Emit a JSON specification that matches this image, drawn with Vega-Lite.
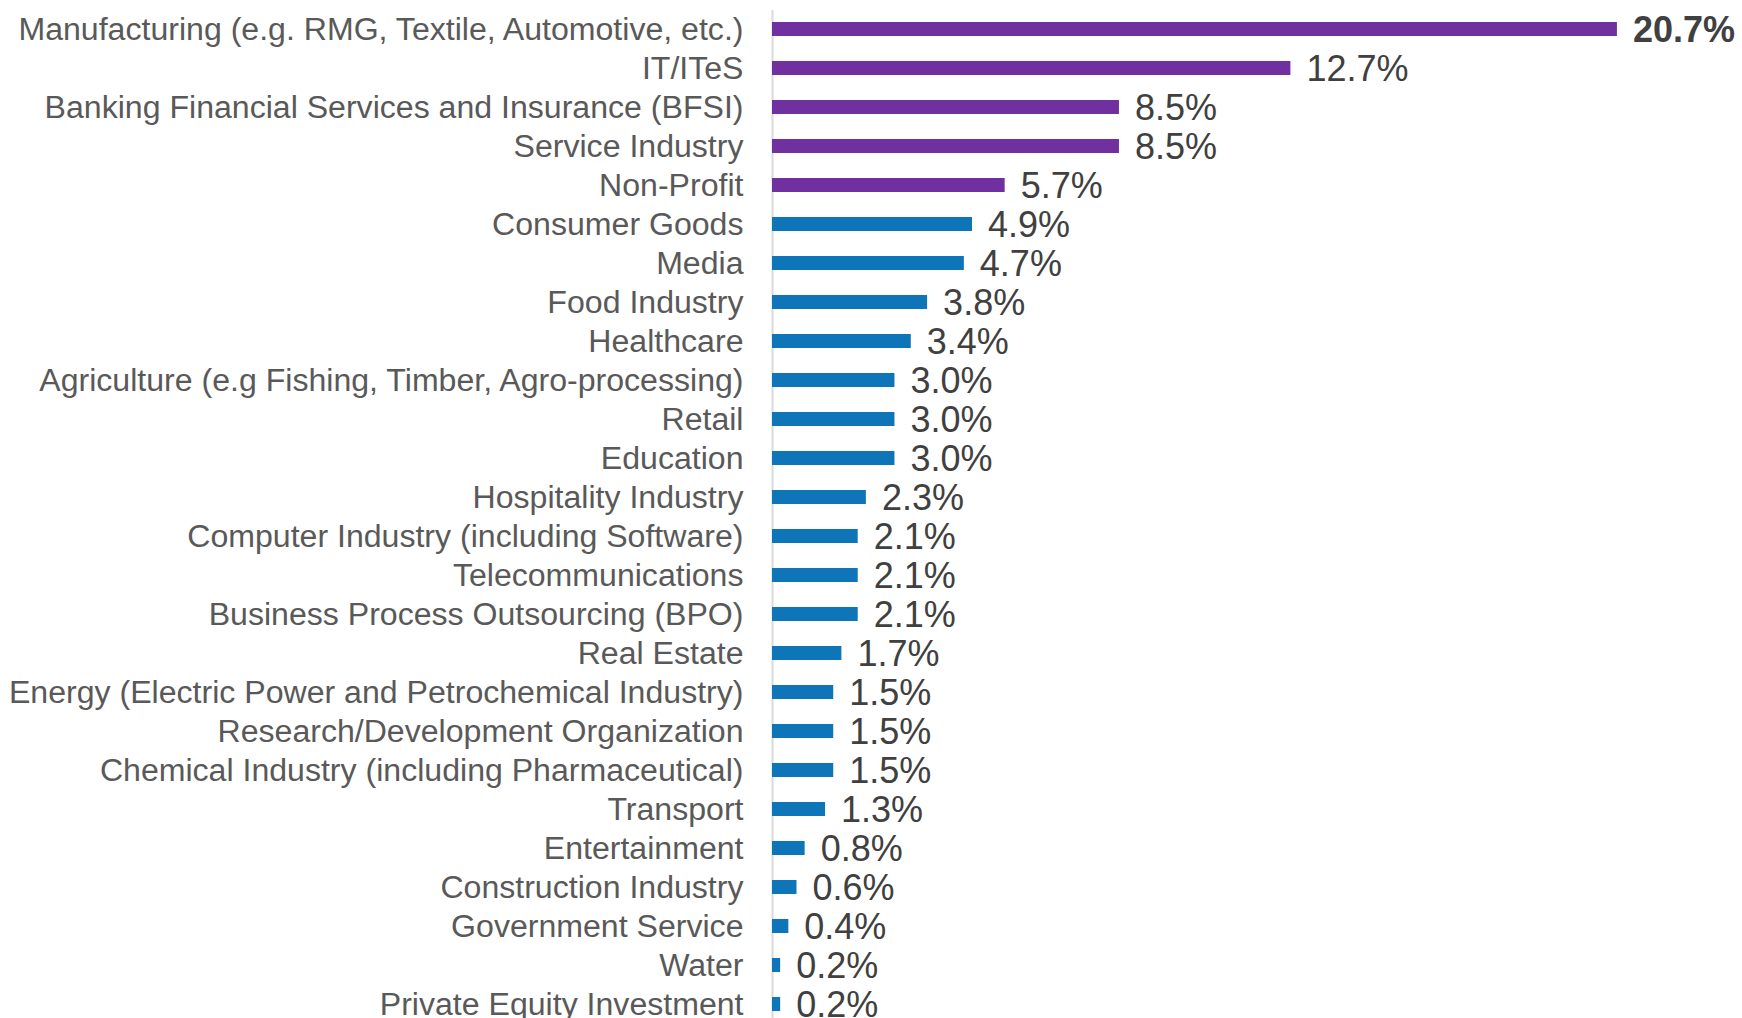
{
  "$schema": "https://vega.github.io/schema/vega-lite/v6.json",
  "autosize": "none",
  "padding": {"left": 772, "top": 9.5, "right": 72, "bottom": 0},
  "width": 898,
  "height": 1014,
  "background": "white",
  "config": {"view": {"stroke": null}, "font": "Liberation Sans"},
  "data": {"values": [
    {"sector": "Manufacturing (e.g. RMG, Textile, Automotive, etc.)", "pct": 20.7, "group": "top", "label": "20.7%", "bold": true},
    {"sector": "IT/ITeS", "pct": 12.7, "group": "top", "label": "12.7%", "bold": false},
    {"sector": "Banking Financial Services and Insurance (BFSI)", "pct": 8.5, "group": "top", "label": "8.5%", "bold": false},
    {"sector": "Service Industry", "pct": 8.5, "group": "top", "label": "8.5%", "bold": false},
    {"sector": "Non-Profit", "pct": 5.7, "group": "top", "label": "5.7%", "bold": false},
    {"sector": "Consumer Goods", "pct": 4.9, "group": "other", "label": "4.9%", "bold": false},
    {"sector": "Media", "pct": 4.7, "group": "other", "label": "4.7%", "bold": false},
    {"sector": "Food Industry", "pct": 3.8, "group": "other", "label": "3.8%", "bold": false},
    {"sector": "Healthcare", "pct": 3.4, "group": "other", "label": "3.4%", "bold": false},
    {"sector": "Agriculture (e.g Fishing, Timber, Agro-processing)", "pct": 3.0, "group": "other", "label": "3.0%", "bold": false},
    {"sector": "Retail", "pct": 3.0, "group": "other", "label": "3.0%", "bold": false},
    {"sector": "Education", "pct": 3.0, "group": "other", "label": "3.0%", "bold": false},
    {"sector": "Hospitality Industry", "pct": 2.3, "group": "other", "label": "2.3%", "bold": false},
    {"sector": "Computer Industry (including Software)", "pct": 2.1, "group": "other", "label": "2.1%", "bold": false},
    {"sector": "Telecommunications", "pct": 2.1, "group": "other", "label": "2.1%", "bold": false},
    {"sector": "Business Process Outsourcing (BPO)", "pct": 2.1, "group": "other", "label": "2.1%", "bold": false},
    {"sector": "Real Estate", "pct": 1.7, "group": "other", "label": "1.7%", "bold": false},
    {"sector": "Energy (Electric Power and Petrochemical Industry)", "pct": 1.5, "group": "other", "label": "1.5%", "bold": false},
    {"sector": "Research/Development Organization", "pct": 1.5, "group": "other", "label": "1.5%", "bold": false},
    {"sector": "Chemical Industry (including Pharmaceutical)", "pct": 1.5, "group": "other", "label": "1.5%", "bold": false},
    {"sector": "Transport", "pct": 1.3, "group": "other", "label": "1.3%", "bold": false},
    {"sector": "Entertainment", "pct": 0.8, "group": "other", "label": "0.8%", "bold": false},
    {"sector": "Construction Industry", "pct": 0.6, "group": "other", "label": "0.6%", "bold": false},
    {"sector": "Government Service", "pct": 0.4, "group": "other", "label": "0.4%", "bold": false},
    {"sector": "Water", "pct": 0.2, "group": "other", "label": "0.2%", "bold": false},
    {"sector": "Private Equity Investment", "pct": 0.2, "group": "other", "label": "0.2%", "bold": false}
  ]},
  "encoding": {
    "y": {
      "field": "sector", "type": "nominal", "sort": null,
      "scale": {"paddingInner": 0.64, "paddingOuter": 0.32},
      "axis": {
        "title": null, "ticks": false, "labelPadding": 29,
        "labelFont": "Liberation Sans", "labelFontSize": 32.1, "labelColor": "#595959",
        "labelLimit": 900, "labelOffset": 1, "domainColor": "#D9D9D9", "domainWidth": 2, "grid": false
      }
    },
    "x": {
      "field": "pct", "type": "quantitative",
      "scale": {"domain": [0, 22], "nice": false},
      "axis": null
    }
  },
  "layer": [
    {
      "mark": {"type": "bar", "size": 14},
      "encoding": {
        "color": {
          "field": "group", "type": "nominal",
          "scale": {"domain": ["top", "other"], "range": ["#7030A0", "#0E75B8"]},
          "legend": null
        }
      }
    },
    {
      "transform": [{"filter": "!datum.bold"}],
      "mark": {"type": "text", "align": "left", "baseline": "middle", "dx": 16, "dy": 2, "font": "Liberation Sans", "fontSize": 36, "color": "#404040"},
      "encoding": {"text": {"field": "label"}}
    },
    {
      "transform": [{"filter": "datum.bold"}],
      "mark": {"type": "text", "align": "left", "baseline": "middle", "dx": 16, "dy": 2, "font": "Liberation Sans", "fontSize": 36, "fontWeight": "bold", "color": "#404040"},
      "encoding": {"text": {"field": "label"}}
    }
  ]
}
